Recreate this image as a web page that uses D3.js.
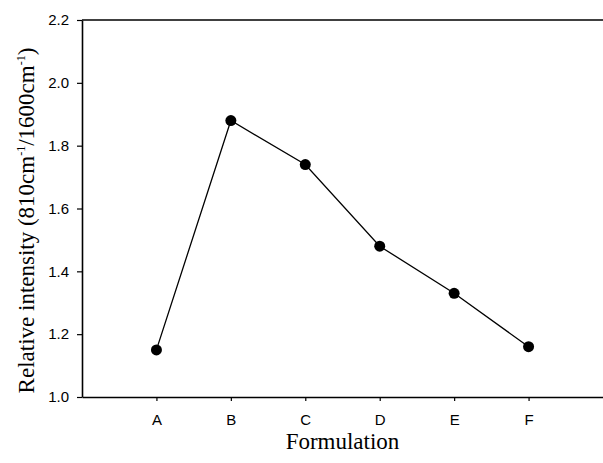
<!DOCTYPE html>
<html>
  <head>
    <script src="https://d3js.org/d3.v7.min.js"></script>
    <style>
      body { margin: 0; background: #fff; }
      .axis .tick line { stroke: #000; stroke-width: 1.2px; }
      .axis .tick text { font-family: "Liberation Sans", Arial, sans-serif; font-size: 15px; fill: #000; }
      .axis .domain { stroke: #000; stroke-width: 1.6px; }
      .title { font-family: "Liberation Serif", "Times New Roman", serif; font-size: 23px; fill: #000; text-anchor: middle; }
    </style>
  </head>
  <body>
    <svg width="603" height="463"></svg>
    <script>
      const categories = ["A", "B", "C", "D", "E", "F"];
      const values = [1.15, 1.88, 1.74, 1.48, 1.33, 1.16];
      const yTicks = [1.0, 1.2, 1.4, 1.6, 1.8, 2.0, 2.2];

      const svg = d3.select("svg");
      const plot = {left: 82, right: 603, top: 20, bottom: 397};

      const xScale = d3.scaleLinear().domain([0, categories.length + 1]).range([plot.left, plot.right]);
      const yScale = d3.scaleLinear().domain([1.0, 2.2]).range([plot.bottom, plot.top]);

      const xAxis = d3.axisBottom(xScale)
        .tickValues(categories.map((c, i) => i + 1))
        .tickFormat(i => categories[i - 1])
        .tickSizeInner(4).tickSizeOuter(0).tickPadding(13);
      const yAxis = d3.axisLeft(yScale)
        .tickValues(yTicks)
        .tickFormat(d3.format(".1f"))
        .tickSizeInner(5).tickSizeOuter(0).tickPadding(8);

      svg.append("g").attr("class", "axis")
        .attr("transform", `translate(0,${plot.bottom})`).call(xAxis);
      svg.append("g").attr("class", "axis")
        .attr("transform", `translate(${plot.left},0)`).call(yAxis);
      // top frame line
      svg.append("line")
        .attr("x1", plot.left).attr("x2", plot.right)
        .attr("y1", plot.top).attr("y2", plot.top)
        .attr("stroke", "#000").attr("stroke-width", 1.6);

      const line = d3.line()
        .x((d, i) => xScale(i + 1))
        .y(d => yScale(d));
      svg.append("path").datum(values)
        .attr("d", line).attr("fill", "none")
        .attr("stroke", "#000").attr("stroke-width", 1.3);
      svg.selectAll("circle").data(values).enter().append("circle")
        .attr("cx", (d, i) => xScale(i + 1))
        .attr("cy", d => yScale(d))
        .attr("r", 5.5).attr("fill", "#000");

      svg.append("text").attr("class", "title")
        .attr("x", (plot.left + plot.right) / 2).attr("y", 449)
        .text("Formulation");

      const yt = svg.append("text").attr("class", "title")
        .attr("transform", `translate(34,${(plot.top + plot.bottom) / 2 + 12}) rotate(-90)`);
      yt.append("tspan").text("Relative intensity (810cm");
      yt.append("tspan").attr("dy", -9).attr("font-size", 12).text("-1");
      yt.append("tspan").attr("dy", 9).text("/1600cm");
      yt.append("tspan").attr("dy", -9).attr("font-size", 12).text("-1");
      yt.append("tspan").attr("dy", 9).text(")");
    </script>
  </body>
</html>
